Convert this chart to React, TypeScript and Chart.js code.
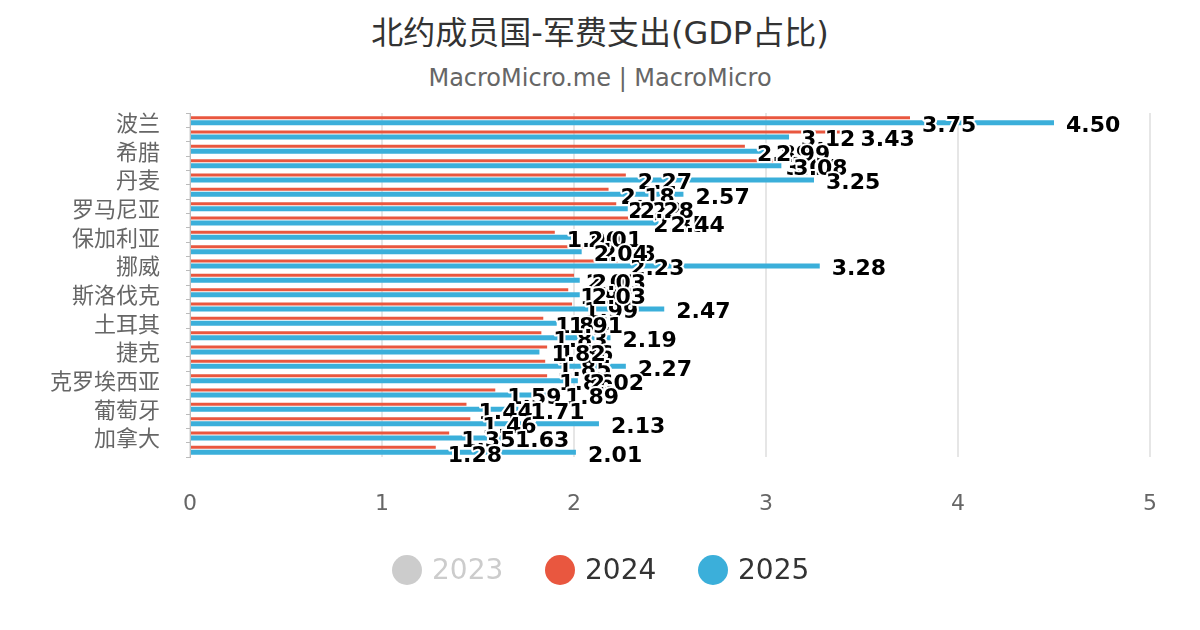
import { useEffect, useRef } from 'react'
import { Chart, registerables } from 'chart.js'
Chart.register(...registerables)

// 24 members, only every other name is printed on the axis
const countries = [
    '波兰', '爱沙尼亚', '希腊', '美国', '丹麦', '立陶宛', '罗马尼亚', '拉脱维亚',
    '保加利亚', '芬兰', '挪威', '英国', '斯洛伐克', '北马其顿', '土耳其', '匈牙利',
    '捷克', '德国', '克罗埃西亚', '法国', '葡萄牙', '荷兰', '加拿大', '阿尔巴尼亚',
]
const spend2024 = [
    3.75, 3.43, 2.89, 3.04, 2.27, 2.18, 2.22, 2.35,
    1.90, 2.08, 2.23, 2.00, 1.97, 1.99, 1.84, 1.83,
    1.86, 1.85, 1.86, 1.59, 1.44, 1.46, 1.35, 1.28,
]
const spend2025 = [
    4.50, 3.12, 2.99, 3.08, 3.25, 2.57, 2.28, 2.44,
    2.01, 2.04, 3.28, 2.03, 2.03, 2.47, 1.91, 2.19,
    1.82, 2.27, 2.02, 1.89, 1.71, 2.13, 1.63, 2.01,
]
const xMin = 0
const xMax = 5
const legendYears = ['2023', '2024', '2025']

const RED = '#E9573F'
const BLUE = '#3BAFDA'
const FONT = '"DejaVu Sans", "Noto Sans CJK SC", sans-serif'

const valueLabels = {
    id: 'valueLabels',
    afterDatasetsDraw(chart: any) {
        const { ctx } = chart
        const yScale = chart.scales.y
        ctx.save()
        ctx.font = `bold 22px ${FONT}`
        ctx.textAlign = 'left'
        ctx.textBaseline = 'middle'
        ctx.lineJoin = 'round'
        ctx.lineWidth = 4
        ctx.strokeStyle = '#fff'
        ctx.fillStyle = '#000'
        chart.data.datasets.forEach((ds: any, di: number) => {
            const meta = chart.getDatasetMeta(di)
            if (meta.hidden) return
            meta.data.forEach((bar: any, i: number) => {
                const txt = Number(ds.data[i]).toFixed(2)
                const px = bar.x + 12
                const py = yScale.getPixelForValue(i) + 6
                ctx.strokeText(txt, px, py)
                ctx.fillText(txt, px, py)
            })
        })
        ctx.restore()
    },
}

export default function App() {
    const canvasRef = useRef<HTMLCanvasElement>(null)
    const chartRef = useRef<Chart | null>(null)

    useEffect(() => {
        if (!canvasRef.current) return
        const ctx = canvasRef.current.getContext('2d')!
        chartRef.current?.destroy()
        chartRef.current = new Chart(ctx, {
            type: 'bar',
            data: {
                labels: countries,
                datasets: [
                    { label: '2024', data: spend2024, backgroundColor: RED, barPercentage: 0.6, categoryPercentage: 0.7 },
                    { label: '2025', data: spend2025, backgroundColor: BLUE, barPercentage: 1, categoryPercentage: 0.7 },
                ],
            },
            options: {
                indexAxis: 'y',
                responsive: false,
                animation: false,
                layout: { padding: { top: 113, bottom: 113, left: 0, right: 50 } },
                plugins: { legend: { display: false }, tooltip: { enabled: false } },
                scales: {
                    x: {
                        min: xMin, max: xMax,
                        ticks: { stepSize: 1, color: '#666', font: { size: 22, family: FONT }, padding: 34 },
                        grid: { color: '#e6e6e6', lineWidth: 2, drawTicks: false },
                        border: { display: false },
                        afterFit: (s: any) => { s.height = 60 },
                    },
                    y: {
                        ticks: {
                            autoSkip: false, color: '#666', font: { size: 22, family: FONT }, padding: 26, labelOffset: 5,
                            callback: (_v: any, i: number) => (i % 2 === 0 ? countries[i] : ''),
                        },
                        grid: { drawOnChartArea: false, drawTicks: true, tickLength: 4, color: '#bbb' },
                        border: { color: '#bbb' },
                        afterFit: (s: any) => { s.width = 190 },
                    },
                },
            },
            plugins: [valueLabels],
        } as any)
        return () => chartRef.current?.destroy()
    }, [])

    const legendColors = ['#ccc', RED, BLUE]

    return (
        <div style={{ position: 'fixed', left: 0, top: 0, width: 1200, height: 630, background: '#fff', fontFamily: FONT }}>
            <div style={{ position: 'absolute', top: 13, width: 1200, textAlign: 'center', fontSize: 32, lineHeight: '40px', color: '#333' }}>
                北约成员国-军费支出(GDP占比)
            </div>
            <div style={{ position: 'absolute', top: 63, width: 1200, textAlign: 'center', fontSize: 24, lineHeight: '30px', color: '#666' }}>
                MacroMicro.me | MacroMicro
            </div>
            <canvas ref={canvasRef} width={1200} height={630} style={{ position: 'absolute', left: 0, top: 0 }} />
            {legendYears.map((yr, i) => (
                <div key={yr} style={{ position: 'absolute', left: 392 + i * 153, top: 553, display: 'flex', alignItems: 'center', gap: 10 }}>
                    <span style={{ width: 30, height: 30, borderRadius: 15, background: legendColors[i], display: 'inline-block' }} />
                    <span style={{ fontSize: 28, lineHeight: '34px', color: i === 0 ? '#ccc' : '#333' }}>{yr}</span>
                </div>
            ))}
        </div>
    )
}
